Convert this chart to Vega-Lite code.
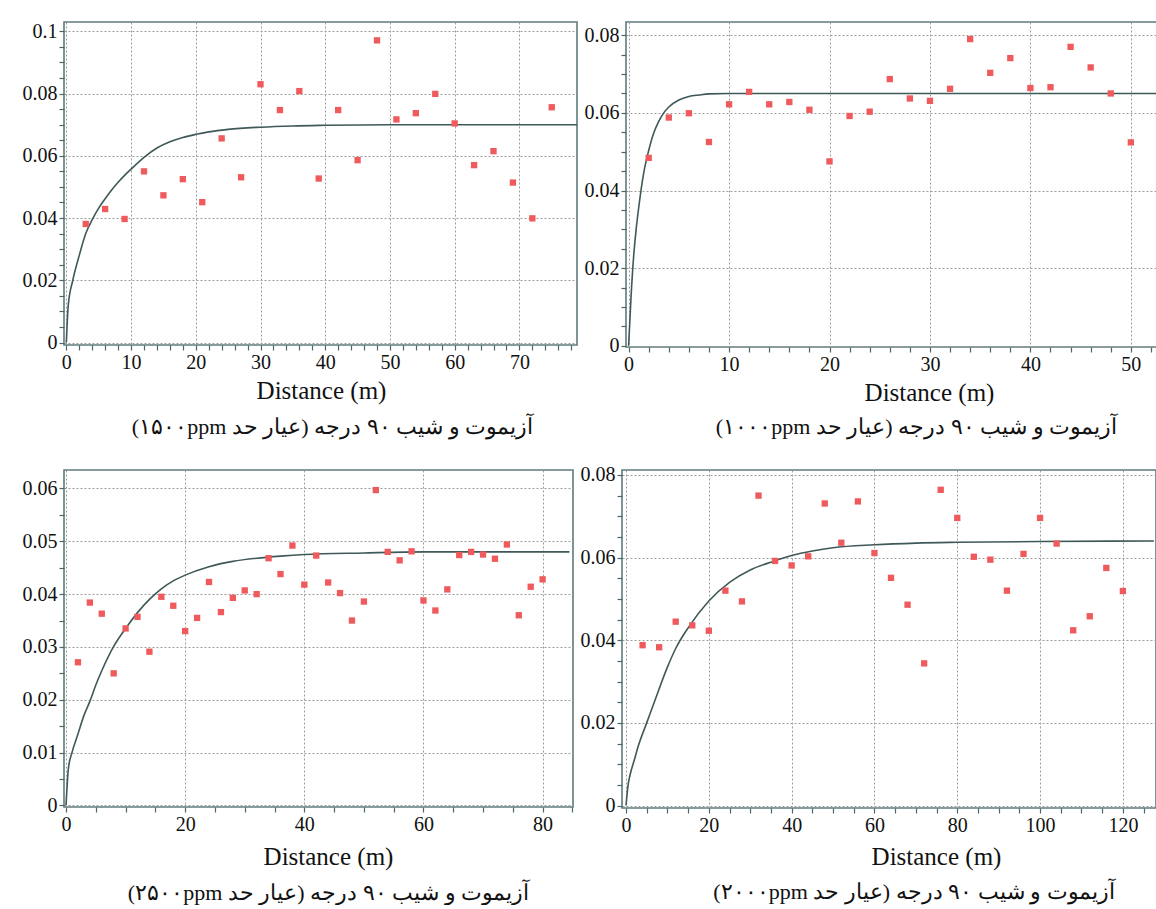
{
  "$schema": "https://vega.github.io/schema/vega-lite/v6.json",
  "padding": {"left": 14, "top": 20, "right": 0, "bottom": 0},
  "background": "white",
  "datasets": {
    "p1": [
      {"distance": 3, "gamma": 0.0381}, {"distance": 6, "gamma": 0.0429}, {"distance": 9, "gamma": 0.0397},
      {"distance": 12, "gamma": 0.0550}, {"distance": 15, "gamma": 0.0473}, {"distance": 18, "gamma": 0.0525},
      {"distance": 21, "gamma": 0.0451}, {"distance": 24, "gamma": 0.0656}, {"distance": 27, "gamma": 0.0531},
      {"distance": 30, "gamma": 0.0830}, {"distance": 33, "gamma": 0.0747}, {"distance": 36, "gamma": 0.0808},
      {"distance": 39, "gamma": 0.0527}, {"distance": 42, "gamma": 0.0747}, {"distance": 45, "gamma": 0.0586},
      {"distance": 48, "gamma": 0.0971}, {"distance": 51, "gamma": 0.0717}, {"distance": 54, "gamma": 0.0737},
      {"distance": 57, "gamma": 0.0799}, {"distance": 60, "gamma": 0.0704}, {"distance": 63, "gamma": 0.0570},
      {"distance": 66, "gamma": 0.0615}, {"distance": 69, "gamma": 0.0514}, {"distance": 72, "gamma": 0.0399},
      {"distance": 75, "gamma": 0.0756}
    ],
    "c1": [
      {"distance": 0, "gamma": 0}, {"distance": 0.3, "gamma": 0.012}, {"distance": 1, "gamma": 0.020},
      {"distance": 2, "gamma": 0.028}, {"distance": 3, "gamma": 0.035}, {"distance": 4, "gamma": 0.0395},
      {"distance": 5, "gamma": 0.0432}, {"distance": 6, "gamma": 0.0462}, {"distance": 7, "gamma": 0.049},
      {"distance": 8, "gamma": 0.0515}, {"distance": 9, "gamma": 0.0537}, {"distance": 10, "gamma": 0.0557},
      {"distance": 12, "gamma": 0.0595}, {"distance": 14, "gamma": 0.0625}, {"distance": 16, "gamma": 0.0645},
      {"distance": 18, "gamma": 0.0659}, {"distance": 20, "gamma": 0.0669}, {"distance": 22, "gamma": 0.0677},
      {"distance": 25, "gamma": 0.0685}, {"distance": 30, "gamma": 0.0692}, {"distance": 35, "gamma": 0.0696},
      {"distance": 40, "gamma": 0.0698}, {"distance": 50, "gamma": 0.0700}, {"distance": 60, "gamma": 0.0700},
      {"distance": 79, "gamma": 0.0700}
    ],
    "p2": [
      {"distance": 2, "gamma": 0.0484}, {"distance": 4, "gamma": 0.0588}, {"distance": 6, "gamma": 0.0599},
      {"distance": 8, "gamma": 0.0525}, {"distance": 10, "gamma": 0.0622}, {"distance": 12, "gamma": 0.0654},
      {"distance": 14, "gamma": 0.0622}, {"distance": 16, "gamma": 0.0628}, {"distance": 18, "gamma": 0.0608},
      {"distance": 20, "gamma": 0.0475}, {"distance": 22, "gamma": 0.0592}, {"distance": 24, "gamma": 0.0603},
      {"distance": 26, "gamma": 0.0687}, {"distance": 28, "gamma": 0.0637}, {"distance": 30, "gamma": 0.0631},
      {"distance": 32, "gamma": 0.0662}, {"distance": 34, "gamma": 0.0790}, {"distance": 36, "gamma": 0.0703},
      {"distance": 38, "gamma": 0.0741}, {"distance": 40, "gamma": 0.0664}, {"distance": 42, "gamma": 0.0666},
      {"distance": 44, "gamma": 0.0770}, {"distance": 46, "gamma": 0.0717}, {"distance": 48, "gamma": 0.0650},
      {"distance": 50, "gamma": 0.0524}
    ],
    "c2": [
      {"distance": 0, "gamma": 0}, {"distance": 0.25, "gamma": 0.013}, {"distance": 0.5, "gamma": 0.023},
      {"distance": 0.75, "gamma": 0.030}, {"distance": 1, "gamma": 0.0355}, {"distance": 1.5, "gamma": 0.0445},
      {"distance": 2, "gamma": 0.0503}, {"distance": 2.5, "gamma": 0.0548}, {"distance": 3, "gamma": 0.0578},
      {"distance": 3.5, "gamma": 0.0600}, {"distance": 4, "gamma": 0.0615}, {"distance": 5, "gamma": 0.0633},
      {"distance": 6, "gamma": 0.0642}, {"distance": 7, "gamma": 0.0646}, {"distance": 8, "gamma": 0.0649},
      {"distance": 10, "gamma": 0.0650}, {"distance": 20, "gamma": 0.0650}, {"distance": 53, "gamma": 0.0650}
    ],
    "p3": [
      {"distance": 2, "gamma": 0.0271}, {"distance": 4, "gamma": 0.0384}, {"distance": 6, "gamma": 0.0363},
      {"distance": 8, "gamma": 0.0250}, {"distance": 10, "gamma": 0.0335}, {"distance": 12, "gamma": 0.0357},
      {"distance": 14, "gamma": 0.0291}, {"distance": 16, "gamma": 0.0395}, {"distance": 18, "gamma": 0.0378},
      {"distance": 20, "gamma": 0.0330}, {"distance": 22, "gamma": 0.0355}, {"distance": 24, "gamma": 0.0423},
      {"distance": 26, "gamma": 0.0366}, {"distance": 28, "gamma": 0.0393}, {"distance": 30, "gamma": 0.0407},
      {"distance": 32, "gamma": 0.0400}, {"distance": 34, "gamma": 0.0468}, {"distance": 36, "gamma": 0.0438},
      {"distance": 38, "gamma": 0.0492}, {"distance": 40, "gamma": 0.0418}, {"distance": 42, "gamma": 0.0473},
      {"distance": 44, "gamma": 0.0422}, {"distance": 46, "gamma": 0.0402}, {"distance": 48, "gamma": 0.0350},
      {"distance": 50, "gamma": 0.0386}, {"distance": 52, "gamma": 0.0597}, {"distance": 54, "gamma": 0.0480},
      {"distance": 56, "gamma": 0.0464}, {"distance": 58, "gamma": 0.0481}, {"distance": 60, "gamma": 0.0388},
      {"distance": 62, "gamma": 0.0369}, {"distance": 64, "gamma": 0.0409}, {"distance": 66, "gamma": 0.0474},
      {"distance": 68, "gamma": 0.0480}, {"distance": 70, "gamma": 0.0475}, {"distance": 72, "gamma": 0.0467},
      {"distance": 74, "gamma": 0.0494}, {"distance": 76, "gamma": 0.0360}, {"distance": 78, "gamma": 0.0414},
      {"distance": 80, "gamma": 0.0428}
    ],
    "c3": [
      {"distance": 0, "gamma": 0}, {"distance": 0.4, "gamma": 0.007}, {"distance": 1, "gamma": 0.010},
      {"distance": 2, "gamma": 0.0135}, {"distance": 3, "gamma": 0.017}, {"distance": 4, "gamma": 0.0197},
      {"distance": 5, "gamma": 0.0228}, {"distance": 6, "gamma": 0.0255}, {"distance": 8, "gamma": 0.0301},
      {"distance": 10, "gamma": 0.0335}, {"distance": 12, "gamma": 0.0365}, {"distance": 14, "gamma": 0.039},
      {"distance": 16, "gamma": 0.041}, {"distance": 18, "gamma": 0.0425}, {"distance": 20, "gamma": 0.0436},
      {"distance": 24, "gamma": 0.0452}, {"distance": 28, "gamma": 0.0462}, {"distance": 32, "gamma": 0.0468},
      {"distance": 36, "gamma": 0.0472}, {"distance": 40, "gamma": 0.0475}, {"distance": 50, "gamma": 0.0478},
      {"distance": 60, "gamma": 0.0480}, {"distance": 84.5, "gamma": 0.0480}
    ],
    "p4": [
      {"distance": 4, "gamma": 0.0388}, {"distance": 8, "gamma": 0.0383}, {"distance": 12, "gamma": 0.0445},
      {"distance": 16, "gamma": 0.0436}, {"distance": 20, "gamma": 0.0423}, {"distance": 24, "gamma": 0.0520},
      {"distance": 28, "gamma": 0.0494}, {"distance": 32, "gamma": 0.0750}, {"distance": 36, "gamma": 0.0592},
      {"distance": 40, "gamma": 0.0581}, {"distance": 44, "gamma": 0.0603}, {"distance": 48, "gamma": 0.0731},
      {"distance": 52, "gamma": 0.0636}, {"distance": 56, "gamma": 0.0736}, {"distance": 60, "gamma": 0.0611},
      {"distance": 64, "gamma": 0.0551}, {"distance": 68, "gamma": 0.0486}, {"distance": 72, "gamma": 0.0344},
      {"distance": 76, "gamma": 0.0764}, {"distance": 80, "gamma": 0.0696}, {"distance": 84, "gamma": 0.0602},
      {"distance": 88, "gamma": 0.0595}, {"distance": 92, "gamma": 0.0520}, {"distance": 96, "gamma": 0.0609},
      {"distance": 100, "gamma": 0.0696}, {"distance": 104, "gamma": 0.0634}, {"distance": 108, "gamma": 0.0424},
      {"distance": 112, "gamma": 0.0458}, {"distance": 116, "gamma": 0.0575}, {"distance": 120, "gamma": 0.0519}
    ],
    "c4": [
      {"distance": 0, "gamma": 0}, {"distance": 0.5, "gamma": 0.005}, {"distance": 1, "gamma": 0.0075},
      {"distance": 2, "gamma": 0.011}, {"distance": 3, "gamma": 0.0145}, {"distance": 5, "gamma": 0.020},
      {"distance": 7, "gamma": 0.0255}, {"distance": 10, "gamma": 0.0335}, {"distance": 12, "gamma": 0.038},
      {"distance": 15, "gamma": 0.043}, {"distance": 20, "gamma": 0.0495}, {"distance": 25, "gamma": 0.054},
      {"distance": 30, "gamma": 0.057}, {"distance": 35, "gamma": 0.0589}, {"distance": 40, "gamma": 0.0605},
      {"distance": 45, "gamma": 0.0616}, {"distance": 50, "gamma": 0.0624}, {"distance": 60, "gamma": 0.0631},
      {"distance": 70, "gamma": 0.0635}, {"distance": 80, "gamma": 0.0637}, {"distance": 100, "gamma": 0.0639},
      {"distance": 127.5, "gamma": 0.0640}
    ]
  },
  "vconcat": [
    {
      "spacing": 5,
      "hconcat": [
        {
          "width": 513, "height": 323,
          "title": {"text": "\u202bآزیموت و شیب ۹۰ درجه (عیار حد ۱۵۰۰ppm)\u202c", "orient": "bottom", "dx": 12, "offset": 14, "frame": "group"},
          "layer": [
            {
              "data": {"name": "c1"},
              "mark": {"type": "line", "color": "#3f5858", "strokeWidth": 1.6, "interpolate": "monotone", "clip": true},
              "encoding": {
                "x": {"field": "distance", "type": "quantitative", "scale": {"domain": [-0.36, 78.9], "nice": false, "zero": false},
                  "axis": {"title": "Distance (m)", "titleX": 257, "tickCount": 500, "values": [0,2,4,6,8,10,12,14,16,18,20,22,24,26,28,30,32,34,36,38,40,42,44,46,48,50,52,54,56,58,60,62,64,66,68,70,72,74,76,78],
                    "format": "d", "labelExpr": "datum.value % 10 === 0 ? datum.label : ''",
                    "gridOpacity": {"condition": {"test": "datum.value % 10 === 0", "value": 1}, "value": 0}}},
                "y": {"field": "gamma", "type": "quantitative", "scale": {"domain": [-0.0008, 0.103], "nice": false, "zero": false},
                  "axis": {"title": null, "minExtent": 45, "maxExtent": 45, "tickCount": 500, "values": [0,0.005,0.01,0.015,0.02,0.025,0.03,0.035,0.04,0.045,0.05,0.055,0.06,0.065,0.07,0.075,0.08,0.085,0.09,0.095,0.1],
                    "format": "~g", "labelExpr": "abs(datum.value/0.02 - round(datum.value/0.02)) < 0.001 ? datum.label : ''",
                    "gridOpacity": {"condition": {"test": "abs(datum.value/0.02 - round(datum.value/0.02)) < 0.001", "value": 1}, "value": 0}}}
              }
            },
            {
              "data": {"name": "p1"},
              "mark": {"type": "square", "color": "#ef5a5c", "size": 40, "opacity": 1},
              "encoding": {
                "x": {"field": "distance", "type": "quantitative"},
                "y": {"field": "gamma", "type": "quantitative"}
              }
            }
          ]
        },
        {
          "width": 537, "height": 325,
          "title": {"text": "\u202bآزیموت و شیب ۹۰ درجه (عیار حد ۱۰۰۰ppm)\u202c", "orient": "bottom", "dx": 22, "offset": 12, "frame": "group"},
          "layer": [
            {
              "data": {"name": "c2"},
              "mark": {"type": "line", "color": "#3f5858", "strokeWidth": 1.6, "interpolate": "monotone", "clip": true},
              "encoding": {
                "x": {"field": "distance", "type": "quantitative", "scale": {"domain": [-0.26, 53.2], "nice": false, "zero": false},
                  "axis": {"title": "Distance (m)", "titleX": 303, "tickCount": 500, "values": [0,2,4,6,8,10,12,14,16,18,20,22,24,26,28,30,32,34,36,38,40,42,44,46,48,50,52],
                    "format": "d", "labelExpr": "datum.value % 10 === 0 ? datum.label : ''",
                    "gridOpacity": {"condition": {"test": "datum.value % 10 === 0", "value": 1}, "value": 0}}},
                "y": {"field": "gamma", "type": "quantitative", "scale": {"domain": [-0.0003, 0.0834], "nice": false, "zero": false},
                  "axis": {"title": null, "minExtent": 40, "maxExtent": 40, "tickCount": 500, "values": [0,0.005,0.01,0.015,0.02,0.025,0.03,0.035,0.04,0.045,0.05,0.055,0.06,0.065,0.07,0.075,0.08],
                    "format": "~g", "labelExpr": "abs(datum.value/0.02 - round(datum.value/0.02)) < 0.001 ? datum.label : ''",
                    "gridOpacity": {"condition": {"test": "abs(datum.value/0.02 - round(datum.value/0.02)) < 0.001", "value": 1}, "value": 0}}}
              }
            },
            {
              "data": {"name": "p2"},
              "mark": {"type": "square", "color": "#ef5a5c", "size": 40, "opacity": 1},
              "encoding": {
                "x": {"field": "distance", "type": "quantitative"},
                "y": {"field": "gamma", "type": "quantitative"}
              }
            }
          ]
        }
      ]
    },
    {
      "spacing": 5,
      "hconcat": [
        {
          "width": 509, "height": 337,
          "title": {"text": "\u202bآزیموت و شیب ۹۰ درجه (عیار حد ۲۵۰۰ppm)\u202c", "orient": "bottom", "dx": 10, "offset": 14, "frame": "group"},
          "layer": [
            {
              "data": {"name": "c3"},
              "mark": {"type": "line", "color": "#3f5858", "strokeWidth": 1.6, "interpolate": "monotone", "clip": true},
              "encoding": {
                "x": {"field": "distance", "type": "quantitative", "scale": {"domain": [-0.34, 85.1], "nice": false, "zero": false},
                  "axis": {"title": "Distance (m)", "titleX": 264, "titlePadding": 10, "tickCount": 500, "values": [0,5,10,15,20,25,30,35,40,45,50,55,60,65,70,75,80,85],
                    "format": "d", "labelExpr": "datum.value % 20 === 0 ? datum.label : ''",
                    "gridOpacity": {"condition": {"test": "datum.value % 20 === 0", "value": 1}, "value": 0}}},
                "y": {"field": "gamma", "type": "quantitative", "scale": {"domain": [-0.0003, 0.0635], "nice": false, "zero": false},
                  "axis": {"title": null, "minExtent": 49, "maxExtent": 49, "tickCount": 500, "values": [0,0.005,0.01,0.015,0.02,0.025,0.03,0.035,0.04,0.045,0.05,0.055,0.06],
                    "format": "~g", "labelExpr": "abs(datum.value/0.01 - round(datum.value/0.01)) < 0.001 ? datum.label : ''",
                    "gridOpacity": {"condition": {"test": "abs(datum.value/0.01 - round(datum.value/0.01)) < 0.001", "value": 1}, "value": 0}}}
              }
            },
            {
              "data": {"name": "p3"},
              "mark": {"type": "square", "color": "#ef5a5c", "size": 40, "opacity": 1},
              "encoding": {
                "x": {"field": "distance", "type": "quantitative"},
                "y": {"field": "gamma", "type": "quantitative"}
              }
            }
          ]
        },
        {
          "width": 534, "height": 338,
          "title": {"text": "\u202bآزیموت و شیب ۹۰ درجه (عیار حد ۲۰۰۰ppm)\u202c", "orient": "bottom", "dx": 25, "offset": 13, "frame": "group"},
          "layer": [
            {
              "data": {"name": "c4"},
              "mark": {"type": "line", "color": "#3f5858", "strokeWidth": 1.6, "interpolate": "monotone", "clip": true},
              "encoding": {
                "x": {"field": "distance", "type": "quantitative", "scale": {"domain": [-0.97, 128], "nice": false, "zero": false},
                  "axis": {"title": "Distance (m)", "titleX": 314, "titlePadding": 9, "tickCount": 500, "values": [0,5,10,15,20,25,30,35,40,45,50,55,60,65,70,75,80,85,90,95,100,105,110,115,120,125],
                    "format": "d", "labelExpr": "datum.value % 20 === 0 ? datum.label : ''",
                    "gridOpacity": {"condition": {"test": "datum.value % 20 === 0", "value": 1}, "value": 0}}},
                "y": {"field": "gamma", "type": "quantitative", "scale": {"domain": [-0.0006, 0.0812], "nice": false, "zero": false},
                  "axis": {"title": null, "minExtent": 39, "maxExtent": 39, "tickCount": 500, "values": [0,0.005,0.01,0.015,0.02,0.025,0.03,0.035,0.04,0.045,0.05,0.055,0.06,0.065,0.07,0.075,0.08],
                    "format": "~g", "labelExpr": "abs(datum.value/0.02 - round(datum.value/0.02)) < 0.001 ? datum.label : ''",
                    "gridOpacity": {"condition": {"test": "abs(datum.value/0.02 - round(datum.value/0.02)) < 0.001", "value": 1}, "value": 0}}}
              }
            },
            {
              "data": {"name": "p4"},
              "mark": {"type": "square", "color": "#ef5a5c", "size": 40, "opacity": 1},
              "encoding": {
                "x": {"field": "distance", "type": "quantitative"},
                "y": {"field": "gamma", "type": "quantitative"}
              }
            }
          ]
        }
      ]
    }
  ],
  "spacing": 25,
  "config": {
    "font": "Liberation Serif",
    "view": {"stroke": "#5f7b7b", "strokeWidth": 1.6},
    "axis": {
      "domain": false,
      "grid": true,
      "gridColor": "#9c9c9c",
      "gridDash": [2, 2],
      "gridWidth": 1,
      "ticks": true,
      "tickColor": "#4d6666",
      "tickSize": 5,
      "tickWidth": 1.2,
      "labelFont": "Liberation Serif",
      "labelFontSize": 20,
      "labelColor": "#111111",
      "labelPadding": 2,
      "labelFlush": false,
      "labelOverlap": false,
      "titleFont": "Liberation Serif",
      "titleFontSize": 25,
      "titleFontWeight": "normal",
      "titleColor": "#111111",
      "titlePadding": 6
    },
    "title": {
      "font": "Liberation Serif",
      "fontSize": 22,
      "fontWeight": "normal",
      "color": "#111111",
      "anchor": "middle"
    }
  }
}
